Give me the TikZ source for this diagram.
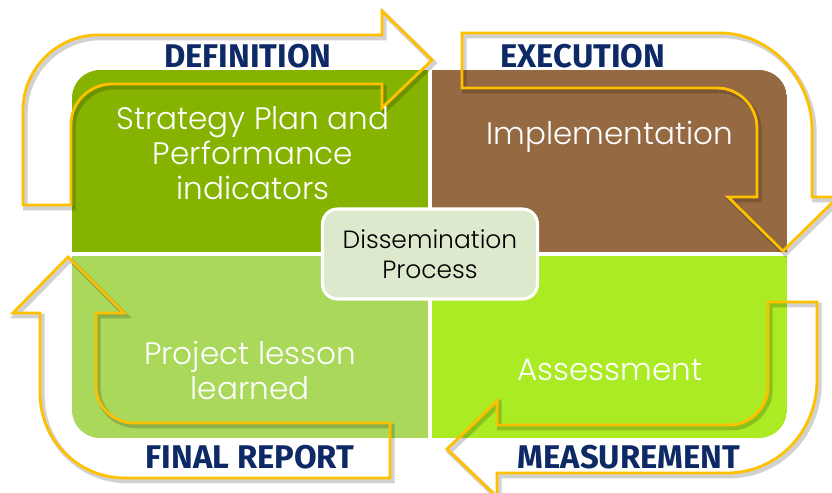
\documentclass[tikz,border=0pt]{standalone}
\usepackage{fontspec}
\setmainfont{Poppins}
\newfontfamily\gothic{Poppins Light}
\newfontfamily\headfont{Fira Sans}
\usepackage{xcolor}
\usepackage{tikz}

\definecolor{olive}{HTML}{86B300}
\definecolor{bark}{HTML}{956A43}
\definecolor{leaf}{HTML}{A9D85A}
\definecolor{lime}{HTML}{ABEB24}
\definecolor{cbox}{HTML}{DDE9CD}
\definecolor{navy}{HTML}{0E2A66}
\definecolor{gold}{HTML}{FFC000}

\begin{document}
\begin{tikzpicture}[x=0.03cm,y=-0.03cm,
                    quad text/.style={text=white,align=center,font=\gothic\fontsize{26.5}{29.8}\selectfont},
                    head/.style={text=navy,font=\headfont\bfseries\fontsize{28}{30}\selectfont},
                    loop arrow/.style={draw=gold,line width=2.4pt,line join=miter,
                      preaction={draw=black,opacity=.18,line width=4pt,transform canvas={shift={(2pt,-2.5pt)}}}},
                    center box/.style={draw=white,line width=2.6pt,fill=cbox,rounded corners=0.45cm,
                      minimum width=6.45cm,minimum height=2.7cm,align=center,font=\gothic\fontsize{21.3}{25.5}\selectfont}]

  \useasboundingbox (0,0) rectangle (832,492);

  % the four quarters
  \begin{scope}
    \clip[rounded corners=0.84cm] (72,70) rectangle (787,438);
    \fill[olive] (72,70) rectangle (428,252);
    \fill[bark]  (432,70) rectangle (787,252);
    \fill[leaf]  (72,256) rectangle (428,438);
    \fill[lime]  (432,256) rectangle (787,438);
  \end{scope}

  % arrows round the quarters
  \path[loop arrow] (23,205) -- (23,110) .. controls (23,69) and (57,35) .. (98,35) -- (382,35)
    -- (382,11) -- (432,60) -- (382,108) -- (382,84) -- (112,84)
    .. controls (90,84) and (71,102) .. (71,124) -- (71,205) -- cycle;
  \path[loop arrow] (462,33) -- (720,33) .. controls (771,33) and (812,79) .. (812,130) -- (812,197)
    -- (838,197) -- (783,251) -- (728,197) -- (757,197) -- (757,128)
    .. controls (757,106) and (739,88) .. (717,88) -- (462,88) -- cycle;
  \path[loop arrow] (768,302) -- (817,302) -- (817,380) .. controls (817,431) and (778,473) .. (727,473)
    -- (497,473) -- (497,497) -- (447,449) -- (497,401) -- (497,425) -- (730,425)
    .. controls (750,425) and (768,407) .. (768,387) -- cycle;
  \path[loop arrow] (68,257) -- (124,313) -- (96,313) -- (96,387)
    .. controls (96,407) and (114,423) .. (134,423) -- (390,423) -- (390,478) -- (125,478)
    .. controls (78,478) and (40,440) .. (40,393) -- (40,313) -- (13,313) -- cycle;

  \node[center box] (C) at (430,254) {Dissemination\\Process};

  \node[quad text] (T1) at (253,153) {Strategy Plan and\\Performance\\indicators};
  \node[quad text] (T2) at (610,137) {Implementation};
  \node[quad text] (T3) at (250,370) {Project lesson\\learned};
  \node[quad text] (T4) at (610,370) {Assessment};

  \node[head] (H1) at (248,56) {DEFINITION};
  \node[head] (H2) at (583,56) {EXECUTION};
  \node[head] (H3) at (250,457) {FINAL REPORT};
  \node[head] (H4) at (629,457) {MEASUREMENT};

\end{tikzpicture}
\end{document}
